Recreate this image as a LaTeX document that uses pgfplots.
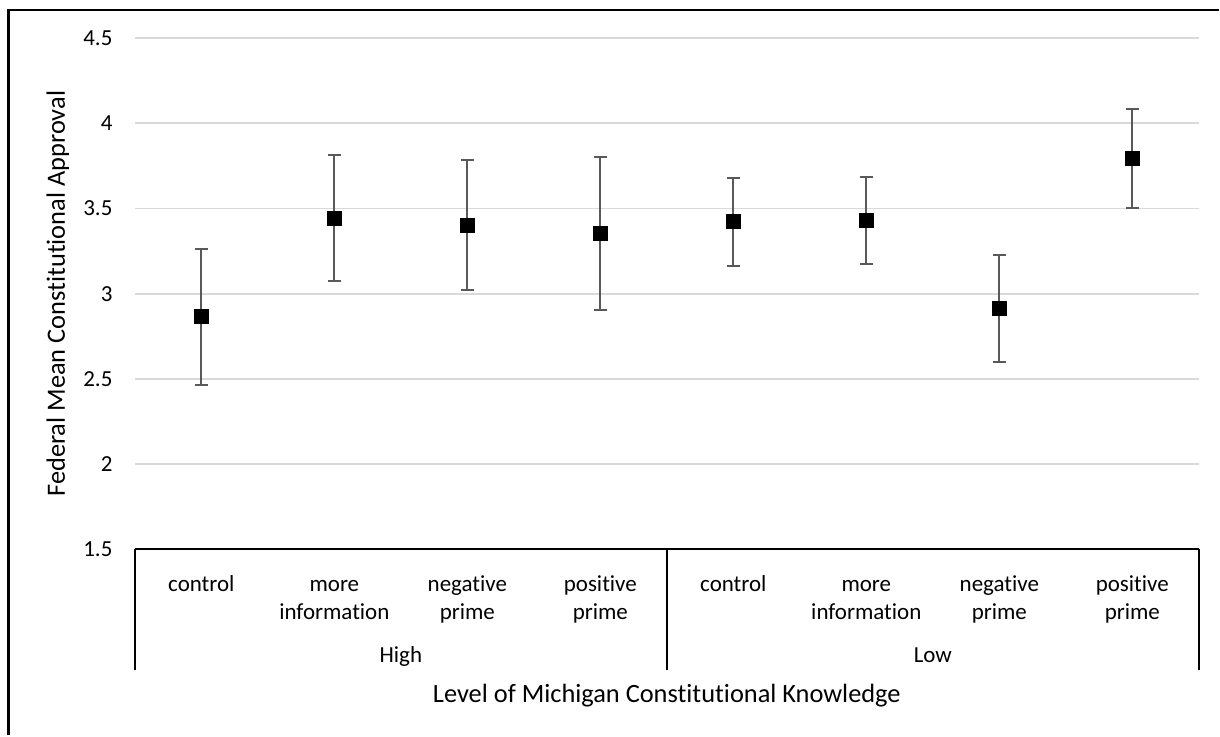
\documentclass[border=0pt]{standalone}
\usepackage{pgfplots}
\pgfplotsset{compat=1.18}
\usepackage{fontspec}
\setmainfont{Carlito}[Ligatures={NoCommon}]
\definecolor{gridgray}{RGB}{217,217,217}
\definecolor{errgray}{RGB}{89,89,89}

% means with upper / lower error lengths
\pgfplotstableread{
x y ep em
1 2.865 0.397 0.403
2 3.443 0.368 0.369
3 3.402 0.384 0.382
4 3.355 0.446 0.449
5 3.424 0.254 0.261
6 3.431 0.255 0.256
7 2.912 0.315 0.315
8 3.792 0.292 0.292
}\means

\begin{document}
\begin{tikzpicture}
    \begin{axis}[
            scale only axis,
            width = 532.5pt, height = 256pt,
            xmin = 0.5, xmax = 8.5, %
            ymin = 1.5, ymax = 4.5, %
            ytick = {1.5,2,2.5,3,3.5,4,4.5},
            xtick = {1,...,8},
            xticklabels = {\strut control, {\strut more\\information}, {\strut negative\\prime}, {\strut positive\\prime}, \strut control, {\strut more\\information}, {\strut negative\\prime}, {\strut positive\\prime}},
            ymajorgrids,
            major grid style = {gridgray, line width=0.9pt},
            axis line style = {draw=none},
            major tick length = 0pt,
            /pgf/number format/assume math mode = true,
            tick label style = {font=\fontsize{11.5}{14.2}\selectfont},
            xticklabel style = {align=center, anchor=north, yshift=-7.5pt},
            yticklabel style = {anchor=east, xshift=-7.7pt},
            clip = false,
        ]
        \addplot[only marks, mark=square*, mark size=3.5pt, black,
            error bars/.cd, y dir=both, y explicit,
            error bar style={errgray, line width=1pt},
            error mark options={rotate=90, mark size=3.3pt, errgray, line width=1pt}]
            table[x=x, y=y, y error plus=ep, y error minus=em] {\means};

        % category box under the axis
        \draw[black, line width=1pt] (axis cs:0.5,1.5) -- (axis cs:8.5,1.5);
        \draw[black, line width=1pt] (axis cs:0.5,1.5) -- ++(0pt,-60.5pt);
        \draw[black, line width=1pt] (axis cs:4.5,1.5) -- ++(0pt,-60.5pt);
        \draw[black, line width=1pt] (axis cs:8.5,1.5) -- ++(0pt,-60.5pt);
        \node[font=\fontsize{11.5}{14}\selectfont, anchor=base] at ([yshift=-56.5pt]axis cs:2.5,1.5) {High};
        \node[font=\fontsize{11.5}{14}\selectfont, anchor=base] at ([yshift=-56.5pt]axis cs:6.5,1.5) {Low};
        \node[font=\fontsize{13.2}{16}\selectfont, anchor=base] at ([yshift=-76.5pt]axis cs:4.5,1.5) {Level of Michigan Constitutional Knowledge};
        \node[font=\fontsize{13.2}{16}\selectfont, rotate=90] at ([xshift=-38.5pt]axis cs:0.5,3) {Federal Mean Constitutional Approval};

        % chart frame, left and top edges only are in view
        \draw[black, line width=1.2pt] ([xshift=-63.3pt, yshift=-93pt]axis cs:0.5,1.5) -- ([xshift=-63.3pt, yshift=270pt]axis cs:0.5,1.5) -- ([xshift=542.5pt, yshift=270pt]axis cs:0.5,1.5);
        % picture extent
        \path ([xshift=-67.5pt, yshift=275pt]axis cs:0.5,1.5) rectangle ([xshift=542.5pt, yshift=-93pt]axis cs:0.5,1.5);
    \end{axis}
\end{tikzpicture}
\end{document}
